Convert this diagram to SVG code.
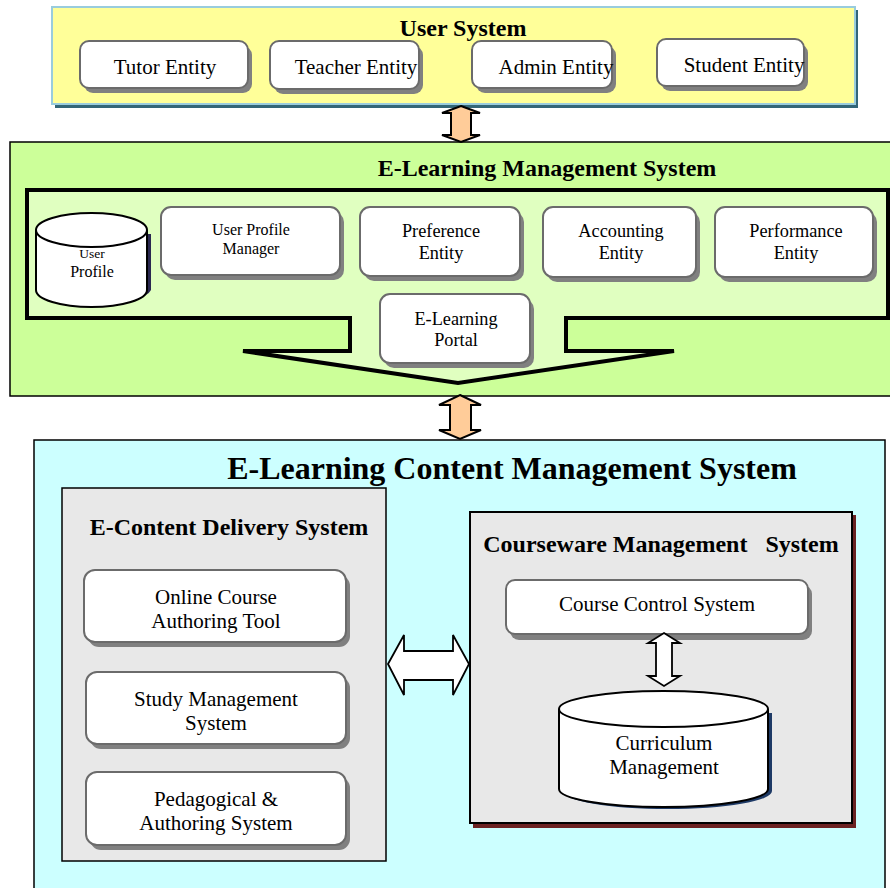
<svg xmlns="http://www.w3.org/2000/svg" width="890" height="888" viewBox="0 0 890 888">
<style>
text{font-family:"Liberation Serif","Times New Roman",serif;fill:#000;text-anchor:middle}
.t{font-weight:bold}
.box{fill:#fff;stroke:#6b6b6b;stroke-width:2}
.sh{fill:#808080}
.arr{fill:#ffcc99;stroke:#000;stroke-width:2;stroke-linejoin:miter}
.warr{fill:#fff;stroke:#000;stroke-width:1.8}
.n{font-size:21px}
.m{font-size:18.3px}
</style>
<rect width="890" height="888" fill="#fff"/>

<g id="user-system">
<rect x="55" y="10" width="803" height="98" fill="#336677"/>
<rect x="52" y="7" width="803" height="97" fill="#ffff99" stroke="#99ccdd" stroke-width="2"/>
<text class="t" x="463" y="36" font-size="24">User System</text>
</g>
<g id="tutor-entity"><rect class="sh" x="84" y="46" width="168" height="47" rx="9"/><rect class="box" x="80" y="41" width="168" height="47" rx="9"/><text class="n" x="165" y="74">Tutor Entity</text></g>
<g id="teacher-entity"><rect class="sh" x="274" y="46" width="149" height="48" rx="9"/><rect class="box" x="270" y="41" width="149" height="48" rx="9"/><text class="n" x="356" y="74">Teacher Entity</text></g>
<g id="admin-entity"><rect class="sh" x="476" y="46" width="140" height="47" rx="9"/><rect class="box" x="472" y="41" width="140" height="47" rx="9"/><text class="n" x="556" y="74">Admin Entity</text></g>
<g id="student-entity"><rect class="sh" x="661" y="44" width="147" height="47" rx="9"/><rect class="box" x="657" y="39" width="147" height="47" rx="9"/><text class="n" x="744" y="72">Student Entity</text></g>

<g id="elms">
<rect x="10" y="142" width="882" height="254" fill="#ccff99" stroke="#000" stroke-width="1.5"/>
<text class="t" x="547" y="176" font-size="24">E-Learning Management System</text>
<path d="M27,190 H888 V318 H566 V351 H674 L458,383 L243,351 H350 V318 H27 Z" fill="#e0ffc0" stroke="#000" stroke-width="4" stroke-linejoin="miter"/>
</g>
<g id="user-profile">
<path d="M40,234 V290 A56,17 0 0 0 151,290 V234" fill="#2a2850"/>
<path d="M36,230 V290 A55.5,17 0 0 0 147,290 V230" fill="#fff" stroke="#000" stroke-width="2"/>
<ellipse cx="91.5" cy="230" rx="55.5" ry="17" fill="#fff" stroke="#000" stroke-width="2"/>
<text x="92" y="258" font-size="13.5">User</text>
<text x="92" y="277" font-size="16">Profile</text>
</g>
<g id="user-profile-manager"><rect class="sh" x="165" y="212" width="179" height="68" rx="10"/><rect class="box" x="161" y="207" width="179" height="68" rx="10"/><text x="251" y="235" font-size="16">User Profile</text><text x="251" y="254" font-size="16">Manager</text></g>
<g id="preference-entity"><rect class="sh" x="364" y="212" width="160" height="69" rx="10"/><rect class="box" x="360" y="207" width="160" height="69" rx="10"/><text class="m" x="441" y="237">Preference</text><text class="m" x="441" y="259">Entity</text></g>
<g id="accounting-entity"><rect class="sh" x="547" y="212" width="153" height="70" rx="10"/><rect class="box" x="543" y="207" width="153" height="70" rx="10"/><text class="m" x="621" y="237">Accounting</text><text class="m" x="621" y="259">Entity</text></g>
<g id="performance-entity"><rect class="sh" x="719" y="212" width="158" height="70" rx="10"/><rect class="box" x="715" y="207" width="158" height="70" rx="10"/><text class="m" x="796" y="237">Performance</text><text class="m" x="796" y="259">Entity</text></g>
<g id="e-learning-portal"><rect class="sh" x="384" y="299" width="150" height="69" rx="10"/><rect class="box" x="380" y="294" width="150" height="69" rx="10"/><text class="m" x="456" y="325">E-Learning</text><text class="m" x="456" y="346">Portal</text></g>

<g id="elcms">
<rect x="34" y="440" width="851" height="460" fill="#ccffff" stroke="#000" stroke-width="1.5"/>
<text class="t" x="512" y="479" font-size="32">E-Learning Content Management System</text>
</g>
<g id="e-content-delivery">
<rect x="62" y="488" width="324" height="373" fill="#e8e8e8" stroke="#000" stroke-width="1.5"/>
<text class="t" x="229" y="535" font-size="24">E-Content Delivery System</text>
</g>
<g id="online-course"><rect class="sh" x="88" y="575" width="262" height="72" rx="11"/><rect class="box" x="84" y="570" width="262" height="72" rx="11"/><text class="n" x="216" y="604">Online Course</text><text class="n" x="216" y="628">Authoring Tool</text></g>
<g id="study-management"><rect class="sh" x="90" y="677" width="260" height="72" rx="11"/><rect class="box" x="86" y="672" width="260" height="72" rx="11"/><text class="n" x="216" y="706">Study Management</text><text class="n" x="216" y="730">System</text></g>
<g id="pedagogical"><rect class="sh" x="90" y="777" width="260" height="73" rx="11"/><rect class="box" x="86" y="772" width="260" height="73" rx="11"/><text class="n" x="216" y="806">Pedagogical &amp;</text><text class="n" x="216" y="830">Authoring System</text></g>

<g id="courseware-management">
<rect x="473" y="515" width="383" height="313" fill="#6b2222"/>
<rect x="470" y="512" width="382" height="311" fill="#e8e8e8" stroke="#000" stroke-width="2"/>
<text class="t" x="661" y="552" font-size="24" xml:space="preserve">Courseware Management   System</text>
</g>
<g id="course-control"><rect class="sh" x="510" y="585" width="302" height="55" rx="9"/><rect class="box" x="506" y="580" width="302" height="54" rx="9"/><text class="n" x="657" y="611">Course Control System</text></g>
<g id="curriculum">
<path d="M563,713 V791 A104.5,18 0 0 0 772,791 V713" fill="#1e3a66"/>
<path d="M559,709 V789 A104.5,18 0 0 0 768,789 V709" fill="#fff" stroke="#000" stroke-width="2"/>
<ellipse cx="663.5" cy="709" rx="104.5" ry="18" fill="#fff" stroke="#000" stroke-width="2"/>
<text class="n" x="664" y="750">Curriculum</text>
<text class="n" x="664" y="774">Management</text>
</g>

<g id="connectors">
<path class="arr" d="M461,106 L480,113 H471 V135 H480 L461,142 L442,135 H451 V113 H442 Z"/>
<path class="arr" d="M460,395 L481,405 H471 V430 H481 L460,439 L439,430 H450 V405 H439 Z"/>
<path class="warr" d="M388,664 L404,635 V651 H453 V635 L469,664 L453,695 V680 H404 V695 Z"/>
<path class="warr" d="M664,633 L680,643 H672 V676 H680 L664,686 L648,676 H656 V643 H648 Z"/>
</g>
</svg>
